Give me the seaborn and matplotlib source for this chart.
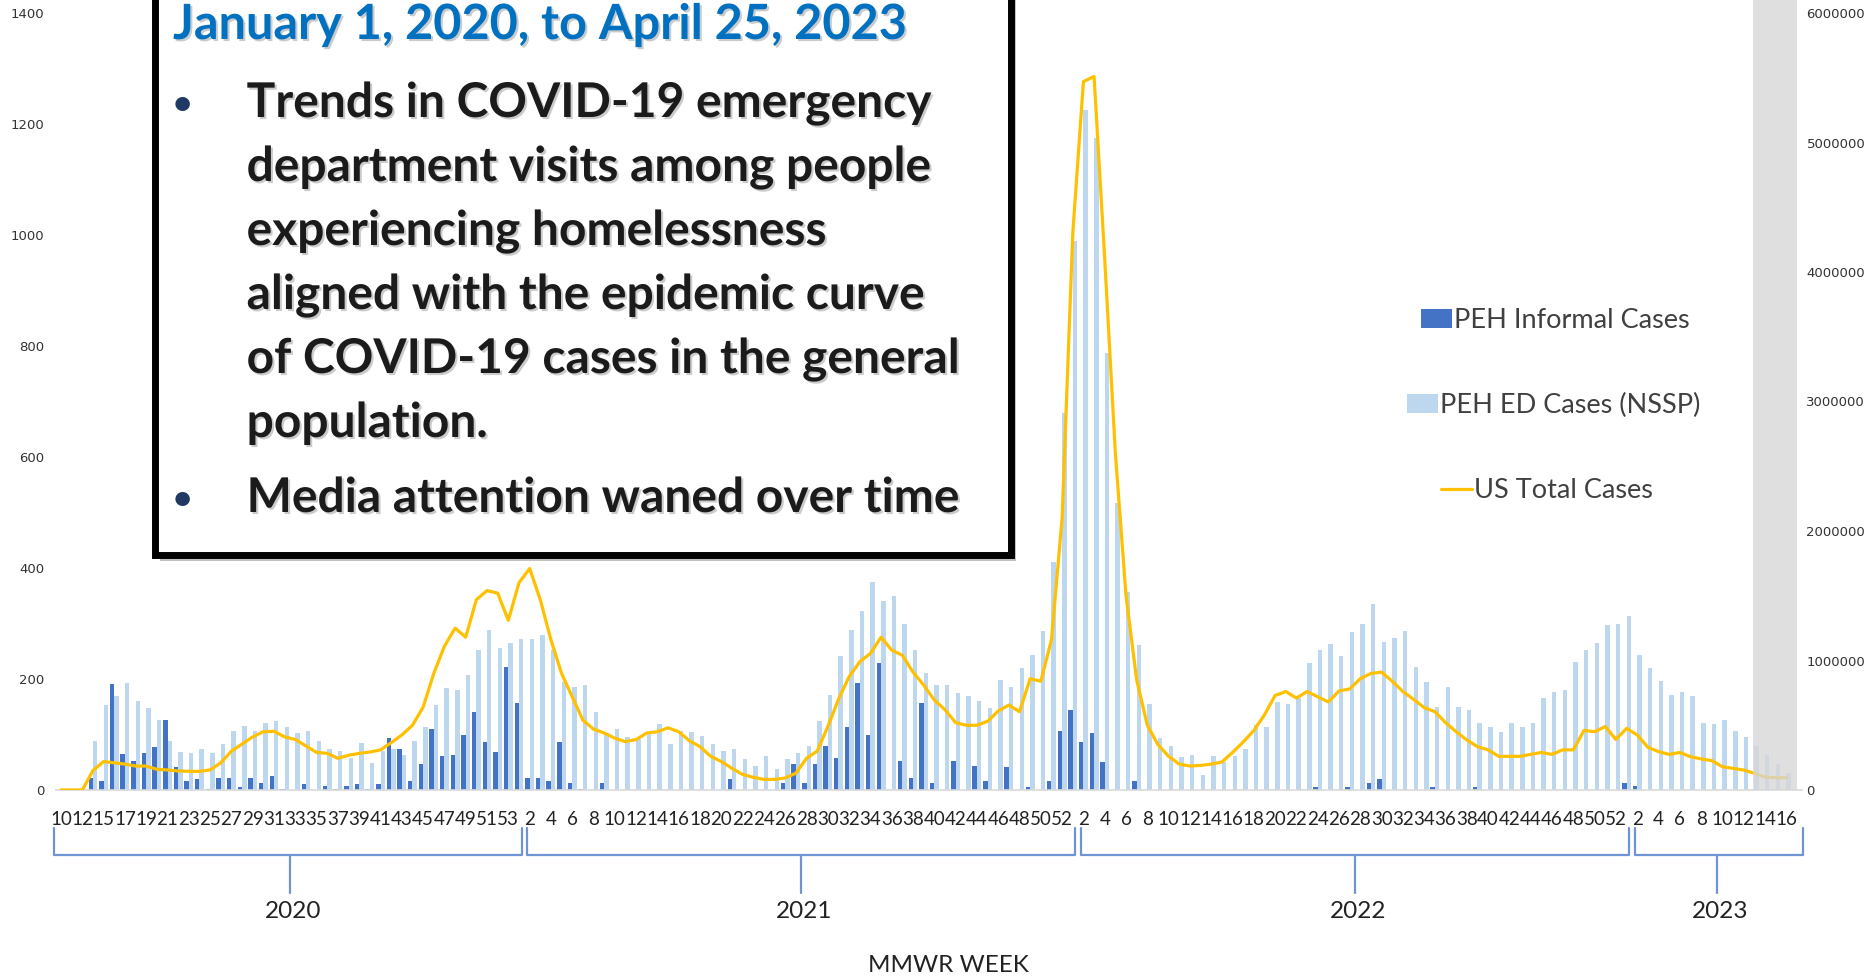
import numpy as np
import pandas as pd
import matplotlib
matplotlib.use("Agg")
import matplotlib.pyplot as plt
import matplotlib.transforms as mtrans
from matplotlib import patheffects as pe
from matplotlib.patches import Patch, Rectangle
from matplotlib.lines import Line2D
import seaborn as sns

sns.set_theme(style="white")
plt.rcParams["font.family"] = ["Lato", "DejaVu Sans"]

# ---------------- data ----------------
weeks_2020 = [10, 11, 12] + list(range(14, 54))
weeks_2021 = list(range(1, 53))
weeks_2022 = list(range(1, 53))
weeks_2023 = list(range(1, 18))
years = ["2020", "2021", "2022", "2023"]
year_counts = [44, 52, 52, 16]

peh_informal = [
    0, 0, 0, 22, 16, 191, 64, 52, 66, 77,
    127, 41, 16, 19, 2, 22, 22, 5, 22, 13,
    25, 2, 0, 11, 0, 8, 2, 8, 11, 2,
    11, 94, 74, 16, 47, 110, 61, 63, 100, 141,
    86, 69, 222, 156, 22, 22, 16, 86, 13, 2,
    0, 13, 0, 0, 0, 0, 0, 0, 0, 0,
    0, 0, 0, 19, 0, 0, 0, 0, 13, 47,
    13, 47, 80, 58, 114, 192, 100, 228, 0, 52,
    22, 156, 13, 0, 52, 0, 44, 16, 0, 41,
    0, 5, 0, 16, 107, 144, 86, 102, 50, 0,
    0, 16, 0, 0, 0, 0, 0, 0, 0, 0,
    0, 0, 0, 0, 0, 0, 0, 0, 5, 0,
    0, 5, 0, 13, 19, 0, 0, 0, 0, 5,
    0, 0, 0, 5, 0, 0, 0, 0, 0, 0,
    0, 0, 0, 0, 0, 0, 0, 13, 8, 0,
    0, 0, 0, 0, 0, 0, 0, 0, 0, 0,
    0, 0, 0, np.nan,
]

peh_ed = [
    0, 0, 0, 88, 153, 169, 193, 160, 147, 127,
    88, 69, 66, 74, 66, 83, 107, 116, 107, 121,
    124, 113, 102, 107, 88, 74, 71, 58, 85, 49,
    71, 74, 63, 88, 113, 153, 183, 180, 207, 252,
    289, 255, 264, 272, 272, 280, 252, 194, 186, 189,
    141, 102, 110, 96, 92, 102, 119, 83, 107, 105,
    97, 83, 71, 74, 55, 44, 61, 38, 55, 66,
    80, 124, 172, 241, 288, 322, 374, 341, 350, 300,
    252, 210, 189, 189, 174, 169, 161, 147, 199, 186,
    219, 244, 286, 410, 680, 990, 1225, 1175, 787, 517,
    357, 261, 155, 94, 80, 60, 63, 27, 61, 51,
    61, 74, 117, 113, 158, 155, 166, 228, 252, 263,
    241, 285, 300, 336, 266, 274, 286, 222, 194, 150,
    186, 150, 144, 121, 113, 105, 121, 113, 121, 166,
    177, 180, 230, 252, 264, 297, 300, 314, 244, 219,
    196, 172, 177, 169, 121, 119, 127, 107, 96, 80,
    63, 47, 30, np.nan,
]

us_total_cases_millions = [
    0, 0, 0, 0.15, 0.22, 0.21, 0.20, 0.185, 0.185, 0.16,
    0.155, 0.147, 0.144, 0.144, 0.155, 0.21, 0.30, 0.355, 0.41, 0.45,
    0.453, 0.41, 0.39, 0.34, 0.29, 0.283, 0.245, 0.268, 0.283, 0.293,
    0.31, 0.365, 0.425, 0.50, 0.64, 0.90, 1.11, 1.25, 1.18, 1.47,
    1.54, 1.52, 1.31, 1.60, 1.71, 1.47, 1.16, 0.90, 0.72, 0.54,
    0.47, 0.44, 0.40, 0.373, 0.39, 0.44, 0.45, 0.48, 0.45, 0.38,
    0.335, 0.26, 0.22, 0.167, 0.12, 0.098, 0.082, 0.082, 0.093, 0.13,
    0.245, 0.30, 0.49, 0.70, 0.875, 0.99, 1.055, 1.18, 1.08, 1.04,
    0.91, 0.81, 0.695, 0.62, 0.52, 0.50, 0.50, 0.53, 0.61, 0.656,
    0.605, 0.86, 0.84, 1.16, 2.1, 4.3, 5.47, 5.51, 4.1, 2.6,
    1.5, 0.85, 0.50, 0.35, 0.26, 0.20, 0.185, 0.19, 0.20, 0.216,
    0.29, 0.37, 0.46, 0.58, 0.73, 0.76, 0.71, 0.76, 0.72, 0.68,
    0.765, 0.78, 0.86, 0.90, 0.91, 0.84, 0.76, 0.70, 0.636, 0.605,
    0.52, 0.45, 0.386, 0.335, 0.31, 0.26, 0.26, 0.26, 0.275, 0.29,
    0.275, 0.31, 0.31, 0.46, 0.45, 0.49, 0.39, 0.476, 0.425, 0.33,
    0.296, 0.275, 0.29, 0.257, 0.24, 0.227, 0.18, 0.167, 0.154, 0.129,
    0.10, 0.095, 0.095, np.nan,
]

title_text = "January 1, 2020, to April 25, 2023"
bullet_lines = [
    ["Trends in COVID-19 emergency",
     "department visits among people",
     "experiencing homelessness",
     "aligned with the epidemic curve",
     "of COVID-19 cases in the general",
     "population."],
    ["Media attention waned over time"],
]

# ---------------- styling ----------------
C_DARK = "#4472C4"
C_LIGHT = "#BDD7EE"
C_LINE = "#FFC000"
C_BRACKET = "#6F93D3"
W, H = 1868, 977

all_weeks = weeks_2020 + weeks_2021 + weeks_2022 + weeks_2023
n = len(all_weeks)
idx = list(range(n))

df_bars = pd.DataFrame({
    "idx": idx * 2,
    "value": peh_informal + peh_ed,
    "series": ["PEH Informal Cases"] * n + ["PEH ED Cases (NSSP)"] * n,
})
df_line = pd.DataFrame({"idx": idx, "cases": us_total_cases_millions}).dropna()

fig = plt.figure(figsize=(W / 100, H / 100), dpi=100)
fig.patch.set_facecolor("white")
ax = fig.add_axes([55.7 / W, 1 - 790 / H, (1802.3 - 55.7) / W, (790 - 13) / H])

sns.barplot(data=df_bars, x="idx", y="value", hue="series",
            hue_order=["PEH Informal Cases", "PEH ED Cases (NSSP)"],
            palette=[C_DARK, C_LIGHT], saturation=1, width=0.84,
            errorbar=None, legend=False, ax=ax, order=idx, linewidth=0)

ax2 = ax.twinx()
sns.lineplot(data=df_line, x="idx", y="cases", color=C_LINE, linewidth=2.3,
             ax=ax2, legend=False)

ax.set_xlim(-0.5, n - 0.5)
ax.set_ylim(0, 1400)
ax2.set_ylim(0, 6)
ax.set_yticks(range(0, 1401, 200))
ax2.set_yticks(range(0, 7))
ax2.set_yticklabels([str(v * 1000000) for v in range(0, 7)])
ax.set_xlabel("")
ax.set_ylabel("")
ax2.set_ylabel("")
ax2.set_xlabel("")

ax.set_xticks(range(0, n, 2))
ax.set_xticklabels([str(all_weeks[i]) for i in range(0, n, 2)])
ax.tick_params(axis="x", length=0, pad=15, labelsize=13.5, labelcolor="#222222")
ax.tick_params(axis="y", length=0, pad=8, labelsize=9.5, labelcolor="#333333")
ax2.tick_params(axis="y", length=0, pad=3, labelsize=9.5, labelcolor="#333333")
for lbl in ax.get_yticklabels() + ax2.get_yticklabels():
    lbl.set_fontfamily("DejaVu Sans")

for s in ["top", "left", "right"]:
    ax.spines[s].set_visible(False)
ax.spines["bottom"].set_color("#d9d9d9")
ax.spines["bottom"].set_linewidth(1.2)
for s in ax2.spines.values():
    s.set_visible(False)
ax.grid(False)
ax2.grid(False)

# incomplete-data shading
ax2.axvspan(158.85, 163.0, ymin=0, ymax=1.018, color="#d7d7d7", alpha=0.78,
            lw=0, zorder=10, clip_on=False)

# ---------------- year brackets ----------------
blend = mtrans.blended_transform_factory(ax.transData, fig.transFigure)
y_top = 1 - 828 / H
y_h = 1 - 855 / H
y_tick = 1 - 893 / H
y_year = 1 - 912 / H
start = 0
inset = 0.25
for k, (yr, cnt) in enumerate(zip(years, year_counts)):
    left = start - 0.5 + (inset if k > 0 else -0.15)
    right = start + cnt - 0.5 - (inset if k < len(years) - 1 else -0.1)
    mid = start - 0.5 + cnt / 2
    fig.add_artist(Line2D([left, left, right, right], [y_top, y_h, y_h, y_top],
                          transform=blend, color=C_BRACKET, lw=1.6))
    fig.add_artist(Line2D([mid, mid], [y_h, y_tick], transform=blend,
                          color=C_BRACKET, lw=1.6))
    fig.text(mid + 0.3, y_year, yr, transform=blend, ha="center", va="center",
             fontsize=17.5, color="#222222")
    start += cnt

fig.text(948 / W, 1 - 966 / H, "MMWR WEEK", ha="center", va="center",
         fontsize=17.5, color="#222222")

# ---------------- legend ----------------
leg_items = [
    (Patch(facecolor=C_DARK, edgecolor="none"), "PEH Informal Cases", 1421, 320),
    (Patch(facecolor=C_LIGHT, edgecolor="none"), "PEH ED Cases (NSSP)", 1407, 405),
    (Line2D([], [], color=C_LINE, lw=2.3), "US Total Cases", 1441, 491),
]
for h, lab, px, py in leg_items:
    fig.legend([h], [lab], loc="center left", bbox_to_anchor=(px / W, 1 - py / H),
               frameon=False, borderpad=0, borderaxespad=0, handlelength=1.15,
               handleheight=0.7, handletextpad=0.08, fontsize=19.5,
               labelcolor="#404040")

# ---------------- callout box ----------------
box = Rectangle((154.5 / W, 1 - 554.5 / H), (1010.5 - 154.5) / W, 0.7,
                transform=fig.transFigure, facecolor="white", edgecolor="black",
                linewidth=5, zorder=20, clip_on=False,
                path_effects=[pe.SimplePatchShadow(offset=(4, -5), shadow_rgbFace="#777777",
                                                   alpha=0.45), pe.Normal()])
fig.add_artist(box)

txt_shadow = [pe.SimplePatchShadow(offset=(1.5, -1.5), shadow_rgbFace="#999999", alpha=0.5),
              pe.Normal()]
fig.text(173 / W, 1 - 39 / H, title_text, ha="left", va="baseline", fontsize=35,
         fontweight="bold", color="#0070C0", zorder=21, path_effects=txt_shadow)

baselines = [[117, 181, 245, 309, 373, 437], [512]]
for lines, bls in zip(bullet_lines, baselines):
    fig.text(182 / W, 1 - (bls[0] - 3) / H, "\u2022", ha="center", va="baseline",
             fontsize=24, fontweight="bold", color="#1F3864", zorder=21)
    for line, bl in zip(lines, bls):
        fig.text(246.6 / W, 1 - bl / H, line, ha="left", va="baseline", fontsize=34.5,
                 fontweight="bold", color="#1b1b1b", zorder=21, path_effects=txt_shadow)

fig.savefig("out.png", dpi=100, facecolor="white")
